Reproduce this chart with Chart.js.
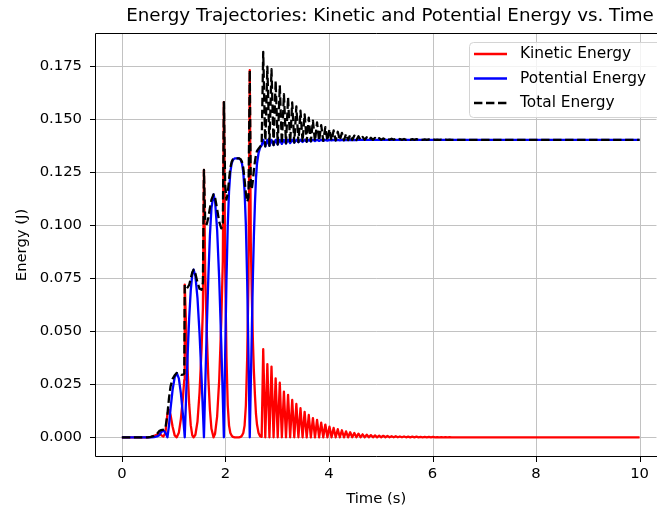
<!DOCTYPE html>
<html>
<head>
<meta charset="utf-8">
<title>Energy Trajectories</title>
<script src="https://cdn.jsdelivr.net/npm/chart.js@4.4.1/dist/chart.umd.min.js"></script>
<style>
  html, body { margin: 0; padding: 0; background: #fff; overflow: hidden; }
  canvas { display: block; }
</style>
</head>
<body>
<canvas id="energyChart" width="657" height="510"></canvas>
<script>
    // time samples (s)
    const timeS = [
      0, 0.50, 0.56, 0.62, 0.68, 0.72, 0.76, 0.80, 0.84, 0.88,
      0.91, 0.94, 0.98, 1.02, 1.06, 1.10, 1.14, 1.18, 1.205, 1.214,
      1.24, 1.27, 1.30, 1.33, 1.36, 1.385, 1.42, 1.46, 1.50, 1.54,
      1.565, 1.585, 1.61, 1.64, 1.67, 1.70, 1.73, 1.77, 1.80, 1.84,
      1.88, 1.92, 1.95, 1.97, 1.995, 2.02, 2.045, 2.07, 2.095, 2.12,
      2.145, 2.18, 2.26, 2.295, 2.32, 2.345, 2.37, 2.395, 2.42, 2.445,
      2.47, 2.49, 2.51, 2.53, 2.55, 2.57, 2.59, 2.61, 2.64, 2.67,
      2.70,
      2.73, 2.77, 2.81, 2.85, 2.89, 2.93, 2.97, 3.01, 3.05, 3.09,
      3.13, 3.17, 3.21, 3.25, 3.29, 3.33, 3.37, 3.41, 3.45, 3.49,
      3.53, 3.57, 3.61, 3.65, 3.69, 3.73, 3.77, 3.81, 3.85, 3.89,
      3.93, 3.97, 4.01, 4.05, 4.09, 4.13, 4.17, 4.21, 4.25, 4.29,
      4.33, 4.37, 4.41, 4.45, 4.49, 4.53, 4.57, 4.61, 4.65, 4.69,
      4.73, 4.77, 4.81, 4.85, 4.89, 4.93, 4.97, 5.01, 5.05, 5.09,
      5.13, 5.17, 5.21, 5.25, 5.29, 5.33, 5.37, 5.41, 5.45, 5.49,
      5.53, 5.57, 5.61, 5.65, 5.69, 5.73, 5.77, 5.81, 5.85, 5.89,
      5.93, 5.97, 6.01, 6.05, 6.09, 6.13, 6.17, 6.21, 6.25, 6.29,
      6.33, 6.37, 7.0, 8.5, 10.0
    ];

    const kinetic = [
      0, 0, 0.0002, 0.0006, 0.0013, 0.0019, 0.0010, 0.0003, 0.0020, 0.0110,
      0.0130, 0.0105, 0.0050, 0.0009, 0, 0.0021, 0.0087, 0.0191, 0.0270, 0.0720,
      0.0527, 0.0317, 0.0156, 0.0057, 0.0009, 0, 0.0012, 0.0073, 0.0211, 0.0422,
      0.0607, 0.1260, 0.0768, 0.0489, 0.0278, 0.0131, 0.0040, 0, 0.0017, 0.0099,
      0.0271, 0.0547, 0.0831, 0.1580, 0.0800, 0.0380, 0.0150, 0.0055, 0.0020, 0.0008,
      0.0002, 0, 0, 0.0002, 0.0008, 0.0020, 0.0055, 0.0150, 0.0370, 0.0740,
      0.1730, 0.0920, 0.0670, 0.0460, 0.0310, 0.0200, 0.0110, 0.0060, 0.0020, 0.0005,
      0.0002,
      0.0415, 0, 0.0345, 0, 0.0333, 0, 0.0278, 0, 0.0257, 0,
      0.0215, 0, 0.0200, 0, 0.0176, 0, 0.0157, 0, 0.0137, 0,
      0.0120, 0, 0.0105, 0, 0.0090, 0, 0.0082, 0, 0.0069, 0,
      0.0060, 0, 0.0050, 0, 0.0044, 0, 0.0038, 0, 0.0033, 0,
      0.0028, 0, 0.0024, 0, 0.0020, 0, 0.0017, 0, 0.0014, 0,
      0.0012, 0, 0.0010, 0, 0.0009, 0, 0.0008, 0, 0.0007, 0,
      0.0006, 0, 0.0005, 0, 0.0005, 0, 0.0004, 0, 0.0004, 0,
      0.0003, 0, 0.0003, 0, 0.0003, 0, 0.0002, 0, 0.0002, 0,
      0.0002, 0, 0.0002, 0, 0.0001, 0, 0.0001, 0, 0.0001, 0,
      0.0001, 0, 0, 0, 0
    ];

    const potential = [
      0, 0, 0, 0.0001, 0.0004, 0.0010, 0.0024, 0.0033, 0.0022, 0,
      0.0055, 0.0135, 0.0225, 0.0283, 0.0303, 0.0278, 0.0207, 0.0104, 0.0030, 0,
      0.0187, 0.0389, 0.0562, 0.0691, 0.0769, 0.0790, 0.0760, 0.0657, 0.0489, 0.0273,
      0.0123, 0, 0.0242, 0.0516, 0.0757, 0.0949, 0.1080, 0.1145, 0.1113, 0.0976,
      0.0744, 0.0438, 0.0179, 0, 0.0390, 0.0740, 0.1000, 0.1160, 0.1250, 0.1290,
      0.1308, 0.1315, 0.1315, 0.1308, 0.1290, 0.1250, 0.1160, 0.1000, 0.0740, 0.0390,
      0, 0.0250, 0.0500, 0.0750, 0.0950, 0.1100, 0.1220, 0.1290, 0.1340, 0.1365,
      0.1376,
      0.1402, 0.1371, 0.1402, 0.1374, 0.1402, 0.1377, 0.1402, 0.1380, 0.1402, 0.1383,
      0.1402, 0.1385, 0.1402, 0.1387, 0.1402, 0.1389, 0.1402, 0.1391, 0.1402, 0.1392,
      0.1402, 0.1393, 0.1402, 0.1395, 0.1402, 0.1396, 0.1402, 0.1397, 0.1402, 0.1397,
      0.1402, 0.1398, 0.1402, 0.1399, 0.1402, 0.1399, 0.1402, 0.1400, 0.1402, 0.1400,
      0.1402, 0.1401, 0.1402, 0.1401, 0.1402, 0.1401, 0.1402, 0.1402, 0.1402, 0.1402,
      0.1402, 0.1402, 0.1402, 0.1402, 0.1402, 0.1402, 0.1402, 0.1402, 0.1402, 0.1402,
      0.1402, 0.1402, 0.1402, 0.1402, 0.1402, 0.1402, 0.1402, 0.1402, 0.1402, 0.1402,
      0.1402, 0.1402, 0.1402, 0.1402, 0.1402, 0.1402, 0.1402, 0.1402, 0.1402, 0.1402,
      0.1402, 0.1402, 0.1402, 0.1402, 0.1402, 0.1402, 0.1402, 0.1402, 0.1402, 0.1402,
      0.1402, 0.1402, 0.1402, 0.1402, 0.1402
    ];

    const total = [
      0, 0, 0.0002, 0.0007, 0.0017, 0.0029, 0.0034, 0.0036, 0.0042, 0.0110,
      0.0185, 0.0240, 0.0275, 0.0292, 0.0303, 0.0299, 0.0294, 0.0295, 0.0300, 0.0720,
      0.0714, 0.0706, 0.0718, 0.0748, 0.0778, 0.0790, 0.0772, 0.0730, 0.0700, 0.0695,
      0.0730, 0.1260, 0.1010, 0.1005, 0.1035, 0.1080, 0.1120, 0.1145, 0.1130, 0.1075,
      0.1015, 0.0985, 0.1010, 0.1580, 0.1190, 0.1120, 0.1150, 0.1215, 0.1270, 0.1298,
      0.1310, 0.1315, 0.1315, 0.1310, 0.1298, 0.1270, 0.1215, 0.1150, 0.1110, 0.1130,
      0.1730, 0.1170, 0.1170, 0.1210, 0.1260, 0.1300, 0.1330, 0.1350, 0.1360, 0.1370,
      0.1378,
      0.1817, 0.1371, 0.1747, 0.1374, 0.1735, 0.1377, 0.1680, 0.1380, 0.1659, 0.1383,
      0.1617, 0.1385, 0.1602, 0.1387, 0.1578, 0.1389, 0.1559, 0.1391, 0.1539, 0.1392,
      0.1522, 0.1393, 0.1507, 0.1395, 0.1492, 0.1396, 0.1484, 0.1397, 0.1471, 0.1397,
      0.1462, 0.1398, 0.1452, 0.1399, 0.1446, 0.1399, 0.1440, 0.1400, 0.1435, 0.1400,
      0.1430, 0.1401, 0.1426, 0.1401, 0.1422, 0.1401, 0.1419, 0.1402, 0.1416, 0.1402,
      0.1414, 0.1402, 0.1412, 0.1402, 0.1411, 0.1402, 0.1410, 0.1402, 0.1409, 0.1402,
      0.1408, 0.1402, 0.1407, 0.1402, 0.1407, 0.1402, 0.1406, 0.1402, 0.1406, 0.1402,
      0.1405, 0.1402, 0.1405, 0.1402, 0.1405, 0.1402, 0.1404, 0.1402, 0.1404, 0.1402,
      0.1404, 0.1402, 0.1404, 0.1402, 0.1403, 0.1402, 0.1403, 0.1402, 0.1403, 0.1402,
      0.1403, 0.1402, 0.1402, 0.1402, 0.1402
    ];

    const xTicks = [0, 2, 4, 6, 8, 10];
    const yTicks = [0, 0.025, 0.05, 0.075, 0.1, 0.125, 0.15, 0.175];

    const FONT = "'DejaVu Sans', sans-serif";
    const LABEL_SIZE = 14.8;
    const GRID_COLOR = '#c2c2c2';

    function toPoints(values) {
      return timeS.map((t, i) => ({ x: t, y: values[i] }));
    }

    const series = [
      { label: 'Kinetic Energy', data: kinetic, color: '#ff0000', dash: [] },
      { label: 'Potential Energy', data: potential, color: '#0000ff', dash: [] },
      { label: 'Total Energy', data: total, color: '#000000', dash: [8.4, 3.6] }
    ];

    // grid lines and outward tick marks at the tick values, placed through the scales
    const gridPlugin = {
      id: 'mplGrid',
      beforeDatasetsDraw(chart) {
        const { ctx, chartArea: a, scales } = chart;
        ctx.save();
        ctx.lineWidth = 1;
        xTicks.forEach(v => {
          const px = Math.round(scales.x.getPixelForValue(v)) + 0.5;
          ctx.strokeStyle = GRID_COLOR;
          ctx.beginPath();
          ctx.moveTo(px, a.top);
          ctx.lineTo(px, a.bottom);
          ctx.stroke();
          ctx.strokeStyle = '#000';
          ctx.beginPath();
          ctx.moveTo(px, a.bottom);
          ctx.lineTo(px, a.bottom + 5);
          ctx.stroke();
        });
        yTicks.forEach(v => {
          const py = Math.round(scales.y.getPixelForValue(v)) + 0.5;
          ctx.strokeStyle = GRID_COLOR;
          ctx.beginPath();
          ctx.moveTo(a.left, py);
          ctx.lineTo(a.right, py);
          ctx.stroke();
          ctx.strokeStyle = '#000';
          ctx.beginPath();
          ctx.moveTo(a.left - 6, py);
          ctx.lineTo(a.left, py);
          ctx.stroke();
        });
        ctx.restore();
      }
    };

    // left, top and bottom spines; the right one falls past the cropped edge
    const framePlugin = {
      id: 'frame',
      afterDatasetsDraw(chart) {
        const { ctx, chartArea: a } = chart;
        const l = Math.round(a.left) - 0.5;
        const t = Math.round(a.top) + 0.5;
        const b = Math.round(a.bottom) - 0.5;
        ctx.save();
        ctx.strokeStyle = '#000';
        ctx.lineWidth = 1;
        ctx.beginPath();
        ctx.moveTo(a.right + 2, t);
        ctx.lineTo(l, t);
        ctx.lineTo(l, b);
        ctx.lineTo(a.right + 2, b);
        ctx.stroke();
        ctx.restore();
      }
    };

    const titlePlugin = {
      id: 'mplTitle',
      afterDraw(chart) {
        const ctx = chart.ctx;
        ctx.save();
        ctx.fillStyle = '#000';
        ctx.font = '18.3px ' + FONT;
        ctx.textAlign = 'center';
        ctx.textBaseline = 'alphabetic';
        ctx.fillText('Energy Trajectories: Kinetic and Potential Energy vs. Time', 390, 21);
        ctx.restore();
      }
    };

    const legendPlugin = {
      id: 'mplLegend',
      afterDraw(chart) {
        const ctx = chart.ctx;
        const x0 = 469.5, y0 = 42.5, w = 192, h = 75, r = 4;
        ctx.save();
        ctx.beginPath();
        ctx.roundRect(x0, y0, w, h, r);
        ctx.fillStyle = 'rgba(255,255,255,0.8)';
        ctx.fill();
        ctx.strokeStyle = '#d4d4d4';
        ctx.lineWidth = 1;
        ctx.stroke();

        const rowsY = [54, 78.5, 103];
        series.forEach((s, i) => {
          ctx.beginPath();
          ctx.setLineDash(s.dash);
          ctx.strokeStyle = s.color;
          ctx.lineWidth = 2.3;
          ctx.moveTo(474, rowsY[i]);
          ctx.lineTo(507, rowsY[i]);
          ctx.stroke();
          ctx.setLineDash([]);
          ctx.fillStyle = '#000';
          ctx.font = '15.4px ' + FONT;
          ctx.textAlign = 'left';
          ctx.textBaseline = 'middle';
          ctx.fillText(s.label, 520, rowsY[i]);
        });
        ctx.restore();
      }
    };

    function initChart() {
      const canvas = document.getElementById('energyChart');
      const ctx = canvas.getContext('2d');

      new Chart(ctx, {
        type: 'line',
        data: {
          datasets: series.map((s, i) => ({
            label: s.label,
            data: toPoints(s.data),
            borderColor: s.color,
            backgroundColor: s.color,
            borderWidth: 2.3,
            borderDash: s.dash,
            borderJoinStyle: 'round',
            borderCapStyle: 'butt',
            pointRadius: 0,
            tension: 0,
            fill: false,
            order: 3 - i
          }))
        },
        options: {
          responsive: false,
          animation: false,
          events: [],
          layout: { padding: { top: 33, right: 0, bottom: 0, left: 0 } },
          plugins: {
            legend: { display: false },
            tooltip: { enabled: false },
            title: { display: false }
          },
          scales: {
            x: {
              type: 'linear',
              min: -0.5,
              max: 10.326,
              afterBuildTicks: s => { s.ticks = xTicks.map(v => ({ value: v })); },
              afterFit: s => { s.height = 53; },
              border: { display: false },
              grid: { display: false, drawTicks: false, tickLength: 0 },
              ticks: {
                autoSkip: false,
                maxRotation: 0,
                padding: 8,
                color: '#000',
                font: { family: FONT, size: LABEL_SIZE },
                callback: v => String(v)
              },
              title: {
                display: true,
                text: 'Time (s)',
                color: '#000',
                font: { family: FONT, size: LABEL_SIZE },
                padding: { top: 0, bottom: 2 }
              }
            },
            y: {
              type: 'linear',
              min: -0.00929,
              max: 0.19055,
              afterBuildTicks: s => { s.ticks = yTicks.map(v => ({ value: v })); },
              afterFit: s => { s.width = 96; },
              border: { display: false },
              grid: { display: false, drawTicks: false, tickLength: 0 },
              ticks: {
                autoSkip: false,
                padding: 14,
                color: '#000',
                font: { family: FONT, size: LABEL_SIZE },
                callback: v => v.toFixed(3)
              },
              title: {
                display: true,
                text: 'Energy (J)',
                color: '#000',
                font: { family: FONT, size: LABEL_SIZE },
                padding: { top: 13, bottom: 0 }
              }
            }
          }
        },
        plugins: [gridPlugin, framePlugin, titlePlugin, legendPlugin]
      });
    }

    document.addEventListener('DOMContentLoaded', initChart);
</script>
</body>
</html>
